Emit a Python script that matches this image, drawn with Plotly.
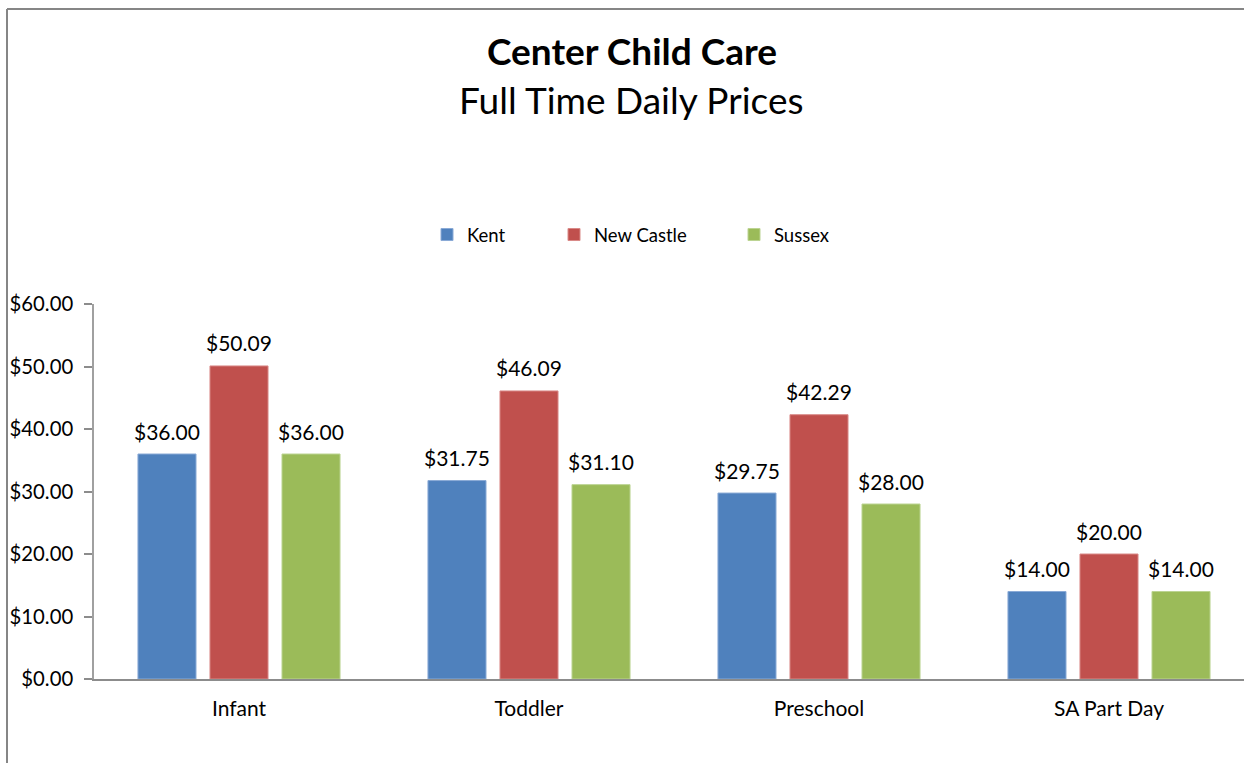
import plotly.graph_objects as go

categories = ["Infant", "Toddler", "Preschool", "SA Part Day"]
kent = [36.00, 31.75, 29.75, 14.00]
new_castle = [50.09, 46.09, 42.29, 20.00]
sussex = [36.00, 31.10, 28.00, 14.00]
series_names = ["Kent", "New Castle", "Sussex"]
y_ticks = [0, 10, 20, 30, 40, 50, 60]
y_tick_labels = ["$0.00", "$10.00", "$20.00", "$30.00", "$40.00", "$50.00", "$60.00"]

colors = ["#4F81BD", "#C0504D", "#9BBB59"]
edges = ["#8AAAD6", "#D98A88", "#BCD493"]
FONT = "Lato"
W, H = 1244, 763
L, R, T, B = 94, 0, 304, 84
PW, PH = W - L - R, H - T - B
BARGAP, GROUPGAP = 0.255, 0.194
slot = (1 - BARGAP) / 3


def px_to_paper(px, py):
    return (px - L) / PW, (H - B - py) / PH


fig = go.Figure()
legend_ids = ["legend", "legend2", "legend3"]
legend_x = [445, 572, 752]  # left of legend marker in px
annotations = []
for j, (name, vals, c, e) in enumerate(zip(series_names, [kent, new_castle, sussex], colors, edges)):
    fig.add_trace(go.Bar(
        x=categories, y=vals, name=name,
        marker=dict(color=c, line=dict(color=e, width=1)),
        legend=legend_ids[j],
    ))
    for i, v in enumerate(vals):
        annotations.append(dict(
            x=i + (j - 1) * slot, y=v, xref="x", yref="y",
            text=f"${v:.2f}", showarrow=False, yanchor="middle", yshift=23,
            font=dict(family=FONT, size=21, color="#000000")))

tx, ty = px_to_paper(632, 51)
annotations.append(dict(text="<b>Center Child Care</b>", xref="paper", yref="paper",
                        x=tx, y=ty, xanchor="center", yanchor="middle", showarrow=False,
                        font=dict(family=FONT, size=37, color="#000000")))
tx, ty = px_to_paper(631, 100)
annotations.append(dict(text="Full Time Daily Prices", xref="paper", yref="paper",
                        x=tx, y=ty, xanchor="center", yanchor="middle", showarrow=False,
                        font=dict(family=FONT, size=37, color="#000000")))

bx0, by0 = px_to_paper(7, 763)
bx1, by1 = px_to_paper(1244, 9)
shapes = [
    dict(type="line", xref="paper", yref="paper", x0=bx0, x1=bx0, y0=by0, y1=by1,
         line=dict(color="#868686", width=2)),
    dict(type="line", xref="paper", yref="paper", x0=bx0, x1=bx1, y0=by1, y1=by1,
         line=dict(color="#868686", width=2)),
]

legend_common = dict(orientation="h", xref="container", yref="container",
                     xanchor="left", yanchor="middle", bgcolor="rgba(0,0,0,0)",
                     font=dict(family=FONT, size=18.5, color="#000000"))
layout_legends = {}
for lid, lx in zip(legend_ids, legend_x):
    layout_legends[lid] = dict(legend_common, x=(lx - 18) / W, y=1 - 235 / H)

fig.update_layout(
    width=W, height=H,
    margin=dict(l=L, r=R, t=T, b=B),
    paper_bgcolor="white", plot_bgcolor="white",
    barmode="group", bargap=BARGAP, bargroupgap=GROUPGAP,
    font=dict(family=FONT, color="#000000"),
    showlegend=True,
    xaxis=dict(range=[-0.5, -0.5 + PW / 290], showline=True, linecolor="#8c8c8c", linewidth=1.5,
               ticks="", showgrid=False, zeroline=False, ticklabelstandoff=10,
               tickfont=dict(family=FONT, size=21, color="#000000")),
    yaxis=dict(range=[0, 60], tickvals=y_ticks, ticktext=y_tick_labels,
               showline=True, linecolor="#a0a0a0", linewidth=1.5,
               ticks="outside", ticklen=8, tickcolor="#8c8c8c", tickwidth=1.5,
               showgrid=False, zeroline=False, ticklabelstandoff=7,
               tickfont=dict(family=FONT, size=20.3, color="#000000")),
    annotations=annotations,
    shapes=shapes,
    **layout_legends,
)
fig.write_html("out.html", config={"displayModeBar": False},
               post_script="document.body.style.margin='0';")
